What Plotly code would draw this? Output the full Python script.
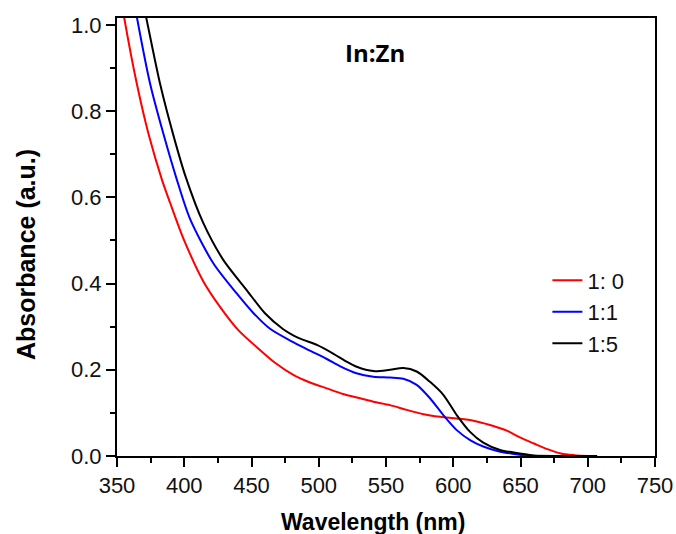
import plotly.graph_objects as go

# ---- data ----
red_wl = [350, 355.4, 364.9, 373.6, 383.5, 389.4, 399.3, 414.2, 426.6, 440.2, 456.3, 468, 481.1, 493,
          505.9, 518, 530.7, 540.6, 553, 565.4, 577.8, 590.2, 602.6, 615, 627.4, 639.8, 649.6, 660,
          670, 680, 690, 700]
red_abs = [1.12, 1.016, 0.861, 0.745, 0.640, 0.588, 0.505, 0.405, 0.346, 0.292, 0.246, 0.215, 0.188, 0.171,
           0.157, 0.144, 0.134, 0.126, 0.118, 0.107, 0.097, 0.091, 0.087, 0.082, 0.072, 0.059, 0.043, 0.029,
           0.016, 0.006, 0.002, 0.0]

blue_wl = [358, 364.9, 374.8, 384.7, 394.6, 404.3, 421.6, 439, 451, 463.8, 481, 493, 506, 516,
           528, 540.6, 553, 562.9, 572.8, 582.7, 592.6, 602.6, 612.5, 622.3, 634.8, 649.6, 658]
blue_abs = [1.14, 1.016, 0.861, 0.745, 0.640, 0.550, 0.447, 0.377, 0.333, 0.295, 0.264, 0.245, 0.225, 0.208,
            0.192, 0.184, 0.182, 0.179, 0.165, 0.134, 0.095, 0.060, 0.037, 0.022, 0.010, 0.003, 0.0]

black_wl = [365, 371.8, 382.2, 392.1, 401, 414.2, 429, 446.4, 460, 473.6, 481, 488, 499, 511, 520,
            528.2, 540.6, 553, 562.9, 572.8, 582.7, 592.6, 602.6, 612.5, 622.3, 634.8, 649.6, 660, 680, 707]
black_abs = [1.12, 1.016, 0.861, 0.742, 0.648, 0.540, 0.455, 0.385, 0.331, 0.294, 0.280, 0.270, 0.257, 0.237, 0.220,
             0.207, 0.197, 0.200, 0.204, 0.196, 0.172, 0.142, 0.095, 0.056, 0.031, 0.014, 0.006, 0.001, 0.0, 0.0]

series_names = ["1: 0", "1:1", "1:5"]
x_ticks = [350, 400, 450, 500, 550, 600, 650, 700, 750]
y_ticks = [0.0, 0.2, 0.4, 0.6, 0.8, 1.0]

FONT = "Liberation Sans, Arial, sans-serif"

fig = go.Figure()
for name, xs, ys, col in [(series_names[0], red_wl, red_abs, "#ff0000"),
                          (series_names[1], blue_wl, blue_abs, "#0000ff"),
                          (series_names[2], black_wl, black_abs, "#000000")]:
    fig.add_trace(go.Scatter(x=xs, y=ys, mode="lines", name=name,
                             line=dict(color=col, width=2, shape="spline", smoothing=0.8)))

axis_common = dict(
    showline=True, linecolor="black", linewidth=2, mirror=True,
    ticks="outside", ticklen=9, tickwidth=2, tickcolor="black",
    showgrid=False, zeroline=False,
    tickfont=dict(family=FONT, size=22, color="#111"),
)

fig.update_xaxes(
    range=[350, 750], tickvals=x_ticks, ticktext=[str(v) for v in x_ticks],
    minor=dict(ticks="outside", ticklen=5, tickwidth=2, tickcolor="black", dtick=25, tick0=350),
    **axis_common,
)
fig.update_yaxes(
    range=[0, 1.016], tickvals=y_ticks, ticktext=["%.1f" % v for v in y_ticks],
    minor=dict(ticks="outside", ticklen=5, tickwidth=2, tickcolor="black", dtick=0.1, tick0=0),
    **axis_common,
)

# axis titles
fig.add_annotation(x=0.476, y=-0.151, xref="paper", yref="paper", text="<b>Wavelength (nm)</b>",
                   showarrow=False, xanchor="center", yanchor="middle",
                   font=dict(family=FONT, size=23, color="black"))
fig.add_annotation(x=-0.169, y=0.459, xref="paper", yref="paper", text="<b>Absorbance (a.u.)</b>",
                   showarrow=False, xanchor="center", yanchor="middle", textangle=-90,
                   font=dict(family=FONT, size=25, color="black"))

fig.add_annotation(x=541.5, y=0.935, xref="x", yref="y", text="<b>In:Zn</b>", showarrow=False,
                   font=dict(family="Open Sans, sans-serif", size=24, color="black"))

fig.update_layout(
    width=676, height=534,
    margin=dict(l=117, r=21, t=18, b=78, autoexpand=False),
    plot_bgcolor="white", paper_bgcolor="white",
    showlegend=True,
    legend=dict(x=0.80, y=0.449, xanchor="left", yanchor="top", bgcolor="rgba(0,0,0,0)",
                font=dict(family=FONT, size=22, color="#111"), tracegroupgap=0, itemwidth=30),
)

fig.write_html("out.html", config={"displayModeBar": False},
               post_script="document.body.style.margin='0px';document.body.style.overflow='hidden';")
